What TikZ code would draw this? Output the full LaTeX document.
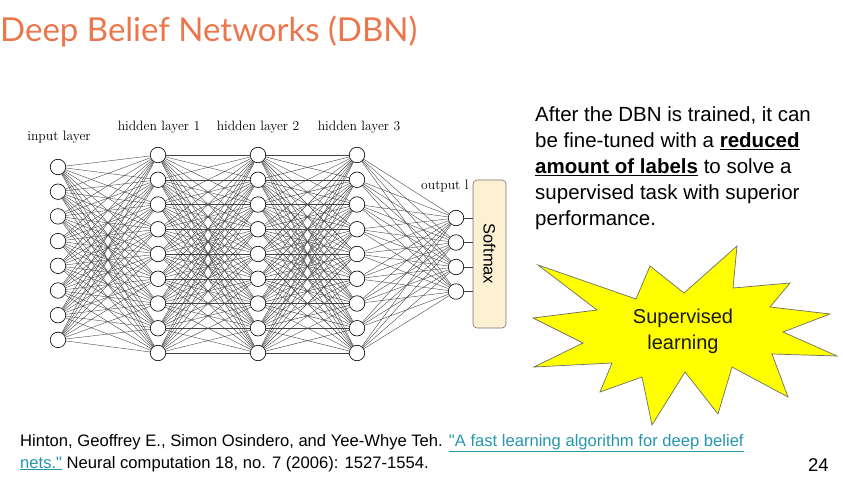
\documentclass[tikz,border=0pt]{standalone}
\usepackage{fontspec}
\newfontfamily\titlefont{Lato}
\newfontfamily\arialfont{Liberation Sans}
\usetikzlibrary{backgrounds}
\definecolor{titleorange}{RGB}{236,118,76}
\definecolor{linkteal}{RGB}{38,150,172}
\definecolor{softfill}{RGB}{252,241,210}
\definecolor{staryellow}{RGB}{255,255,0}
\definecolor{staredge}{RGB}{110,110,100}
\begin{document}
\begin{tikzpicture}[x=1pt,y=-1pt,
  neuron/.style={circle,draw=black,fill=white,line width=0.6pt,minimum size=15.5pt,inner sep=0pt},
  wire/.style={draw=black!75,line width=0.38pt},
  layerlabel/.style={font=\fontsize{13.6}{15}\selectfont,inner sep=0pt},
  bodytext/.style={font=\arialfont\fontsize{20.5}{26}\selectfont,inner sep=0pt,anchor=base west,align=left},
  reftext/.style={font=\arialfont\fontsize{16.6}{18}\selectfont,inner sep=0pt,anchor=base west}]
\useasboundingbox (0,0) rectangle (843,478);

% title
\node[font=\titlefont\fontsize{33}{36}\selectfont,text=titleorange,inner sep=0pt,anchor=base west]
  (title) at (0,42) {Deep Belief Networks (DBN)};

% layers of the network
\foreach \k in {1,...,8}
  \node[neuron] (i\k) at (58,{167+(\k-1)*24.7}) {};
\foreach \k in {1,...,9} {
  \node[neuron] (a\k) at (158,{155+(\k-1)*24.75}) {};
  \node[neuron] (b\k) at (258,{155+(\k-1)*24.75}) {};
  \node[neuron] (c\k) at (357,{155+(\k-1)*24.75}) {};
}
\foreach \k in {1,...,4}
  \node[neuron] (o\k) at (456,{218+(\k-1)*24.5}) {};

% full connections between consecutive layers
\begin{scope}[on background layer]
  \foreach \p in {1,...,8}
    \foreach \q in {1,...,9}
      \draw[wire] (i\p) -- (a\q);
  \foreach \p in {1,...,9}
    \foreach \q in {1,...,9} {
      \draw[wire] (a\p) -- (b\q);
      \draw[wire] (b\p) -- (c\q);
    }
  \foreach \p in {1,...,9}
    \foreach \q in {1,...,4}
      \draw[wire] (c\p) -- (o\q);
\end{scope}

% layer labels
\node[layerlabel] (lin) at (59,137) {input layer};
\node[layerlabel] (lh1) at (159,127) {hidden layer 1};
\node[layerlabel] (lh2) at (258,127) {hidden layer 2};
\node[layerlabel] (lh3) at (359,127) {hidden layer 3};
\node[layerlabel,anchor=west] (lout) at (421,186) {output l};

% softmax block (rotated: its south side faces the output layer)
\node[draw=black!55,fill=softfill,rounded corners=4pt,line width=0.6pt,rotate=-90,
      minimum width=148pt,minimum height=33pt,inner sep=0pt,
      font=\arialfont\fontsize{16.4}{18}\selectfont] (sm) at (489.5,254) {Softmax};
\foreach \k in {1,...,4}
  \draw[wire,line width=0.5pt] (o\k) -- (o\k -| sm.south);

% explanation
\node[bodytext] (expl) at (535,225.7) {After the DBN is trained, it can\\
  be fine-tuned with a \underline{\textbf{reduced}}\\
  \underline{\textbf{amount of labels}} to solve a\\
  supervised task with superior\\
  performance.};

% starburst
\draw[fill=staryellow,draw=staredge,line width=0.7pt,line join=miter]
  (538,265) -- (636,299) -- (650,266) -- (684,293) -- (737,246) -- (733,288)
  -- (790,283) -- (770,307) -- (830,314) -- (783,332) -- (837,356) -- (772,354)
  -- (788,397) -- (732,367) -- (718,414) -- (685,372) -- (652,425) -- (642,377)
  -- (600,392) -- (612,363) -- (534,367) -- (583,343) -- (533,318) -- (597,310)
  -- cycle;
\node[font=\arialfont\fontsize{20}{26}\selectfont,align=center,text=black!90] (sup) at (683,331)
  {Supervised\\learning};

% reference
\node[reftext] (ref1) at (20,446) {Hinton, Geoffrey E., Simon Osindero, and Yee-Whye Teh. \textcolor{linkteal}{\underline{"A fast learning algorithm for deep belief}}};
\node[reftext] (ref2) at (20,468) {\textcolor{linkteal}{\underline{nets."}} Neural computation 18, no. 7 (2006): 1527-1554.};
\node[reftext,font=\arialfont\fontsize{18.5}{20}\selectfont] (page) at (808,471) {24};
\end{tikzpicture}
\end{document}
